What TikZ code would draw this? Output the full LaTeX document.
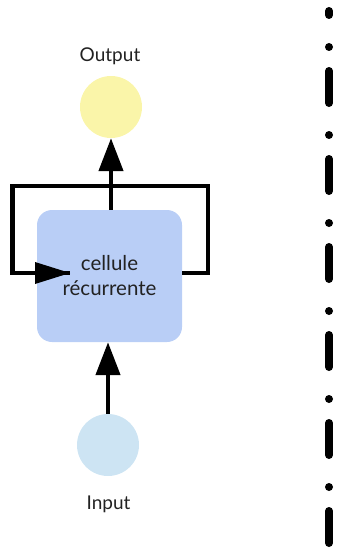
\documentclass[tikz,border=0pt]{standalone}
\usepackage{fontspec}
\setmainfont{Lato}
\usetikzlibrary{arrows.meta}
\definecolor{cellblue}{HTML}{B9CEF6}
\definecolor{outyellow}{HTML}{FAF5A9}
\definecolor{inblue}{HTML}{CDE4F3}
\definecolor{txt}{HTML}{222222}
\tikzset{
  cellbox/.style={fill=cellblue, draw=none, rounded corners=15pt, minimum width=145pt, minimum height=132pt, inner sep=0pt, align=center, text=txt, font=\fontsize{20.5}{25}\selectfont},
  ionode/.style={circle, draw=none, minimum size=62pt, inner sep=0pt},
  lbl/.style={font=\fontsize{19}{21}\selectfont, inner sep=0pt, text=txt},
  flow/.style={line width=4.5pt, -{Triangle[length=33pt, width=24pt]}},
  loopline/.style={line width=4.5pt},
  sep/.style={line width=8pt, line cap=round, dash pattern=on 32pt off 32pt on 0pt off 24pt, dash phase=28pt}
}
\begin{document}
\begin{tikzpicture}[x=1pt, y=-1pt]
\useasboundingbox (0,0) rectangle (337,551);
\node[cellbox] (cell) at (109.5,276) {\raisebox{-2pt}{cellule}\\\raisebox{-2pt}{récurrente}};
\node[ionode, fill=outyellow] (out) at (111,107) {};
\node[ionode, fill=inblue] (in) at (108,445) {};
\node[lbl, anchor=base] (outl) at (110,61) {Output};
\node[lbl, anchor=base] (inl) at (108.5,509) {Input};
% loop
\coordinate (tr) at (208,186);
\coordinate (tl) at (12.5,186);
\coordinate (br) at (208,273);
\coordinate (bl) at (12.5,273);
\coordinate (tip) at (70,273);
\draw[loopline] (cell.east |- br) -- (br) -- (tr) -- (tl) -- (bl) -- (tip);
\fill (tip) -- ++(-35,-11) -- ++(0,22) -- cycle;
% vertical arrows
\draw[flow] (cell.north -| out) -- (out.south);
\draw[flow] (in.north) -- (in.north |- cell.south);
% separator
\coordinate (s1) at (329,11);
\coordinate (s2) at (329,545);
\draw[sep] (s1) -- (s2);
\end{tikzpicture}
\end{document}
